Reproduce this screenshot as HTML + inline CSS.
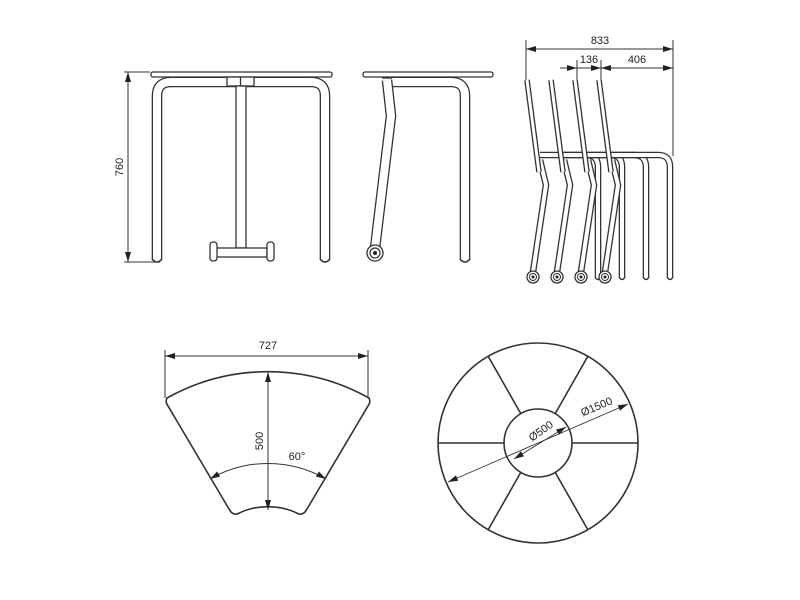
<!DOCTYPE html>
<html><head><meta charset="utf-8"><style>
html,body{margin:0;padding:0;background:#fff}
svg{display:block}
text{font-family:"Liberation Sans","DejaVu Sans",sans-serif;font-size:11px;fill:#222}
</style></head><body>
<svg width="800" height="600" viewBox="0 0 800 600" xmlns="http://www.w3.org/2000/svg">
<defs>
<marker id="a" viewBox="0 0 10 6" refX="10" refY="3" markerWidth="10" markerHeight="6" orient="auto-start-reverse" markerUnits="userSpaceOnUse">
<path d="M0,0 L10,3 L0,6 z" fill="#222"/></marker>
</defs>
<g fill="none" stroke="#333" stroke-width="1">
<line x1="124" y1="72" x2="150" y2="72"/>
<line x1="124" y1="262" x2="160" y2="262"/>
<line x1="128" y1="72" x2="128" y2="262" marker-start="url(#a)" marker-end="url(#a)"/>
</g>
<g fill="none" stroke="#333" stroke-width="1.3">
<path d="M157,260 V96 Q157,82 171,82 H311 Q325,82 325,96 V260" stroke="#333" stroke-width="10.6"/>
<path d="M157,261 V96 Q157,82 171,82 H311 Q325,82 325,96 V261" stroke="#fff" stroke-width="8"/>
<rect x="151" y="72" width="181" height="5" rx="2" fill="#fff"/>
<rect x="227" y="77" width="27" height="9" fill="#fff"/>
<line x1="240.5" y1="77" x2="240.5" y2="86"/>
<rect x="236" y="86" width="10" height="162" fill="#fff"/>
<rect x="216" y="248" width="51" height="9" fill="#fff"/>
<rect x="210" y="242" width="7" height="19" rx="3" fill="#fff"/>
<rect x="267" y="242" width="7" height="19" rx="3" fill="#fff"/>
<path d="M152,259 Q157,265 162,259 M320,259 Q325,265 330,259" stroke-width="1.6"/>

<path d="M385,82 H451 Q465,82 465,96 V260" stroke="#333" stroke-width="10.6"/>
<path d="M385,82 H451 Q465,82 465,96 V261" stroke="#fff" stroke-width="8"/>
<path d="M460,259 Q465,265 470,259" stroke-width="1.6"/>
<rect x="363" y="72" width="130" height="5" rx="2" fill="#fff"/>
<polyline points="387,80 391,116 375,248" stroke="#333" stroke-width="10.6"/>
<polyline points="387,80 391,116 375,248" stroke="#fff" stroke-width="8"/>
<line x1="382" y1="78" x2="392" y2="78"/>
<circle cx="375" cy="253" r="8" fill="#fff"/>
<circle cx="375" cy="253" r="5"/>
<circle cx="375" cy="253" r="2" fill="#222" stroke="none"/>
</g>
<g fill="none" stroke="#333" stroke-width="1">
<line x1="526" y1="40" x2="526" y2="82"/>
<line x1="673" y1="40" x2="673" y2="156"/>
<line x1="577" y1="60" x2="577" y2="80"/>
<line x1="601" y1="60" x2="601" y2="80"/>
<line x1="526" y1="49" x2="673" y2="49" marker-start="url(#a)" marker-end="url(#a)"/>
<line x1="560" y1="68" x2="577" y2="68" marker-end="url(#a)"/>
<line x1="577" y1="68" x2="601" y2="68" marker-end="url(#a)"/>
<line x1="601" y1="68" x2="673" y2="68" marker-start="url(#a)" marker-end="url(#a)"/>
</g>
<text x="600" y="44" text-anchor="middle">833</text>
<text x="589" y="63" text-anchor="middle">136</text>
<text x="637" y="63" text-anchor="middle">406</text>
<text transform="translate(123,167) rotate(-90)" text-anchor="middle">760</text>

<g fill="none">
<g id="ch">
<path d="M540,155 H586 Q598,155 598,167 V277" stroke="#333" stroke-width="6.6"/>
<path d="M540,155 H586 Q598,155 598,167 V278" stroke="#fff" stroke-width="4"/>
<path d="M595,277 Q598,282 601,277" stroke="#333" stroke-width="1.4"/>
<polyline points="540,160 546,185 533,272" stroke="#333" stroke-width="6.6"/>
<polyline points="540,160 546,185 533,272" stroke="#fff" stroke-width="4"/>
<line x1="527" y1="80" x2="539" y2="172" stroke="#333" stroke-width="5.6"/>
<line x1="527" y1="80" x2="539" y2="172" stroke="#fff" stroke-width="3"/>
<circle cx="533" cy="277" r="6" fill="#fff" stroke="#333" stroke-width="1.3"/>
<circle cx="533" cy="277" r="3.5" stroke="#333"/>
<circle cx="533" cy="277" r="1.5" fill="#222"/>
</g>
<use href="#ch" x="24"/>
<use href="#ch" x="48"/>
<use href="#ch" x="72"/>
</g>

<g fill="none" stroke="#333" stroke-width="1">
<line x1="165" y1="350" x2="165" y2="398"/>
<line x1="368" y1="350" x2="368" y2="398"/>
<line x1="165" y1="356" x2="368" y2="356" marker-start="url(#a)" marker-end="url(#a)"/>
<path d="M167,398 A207,207 0 0 1 369,398 Q371,402 368,406 L307,509 Q304,515 299,514 A69,69 0 0 0 237,514 Q232,515 229,509 L168,406 Q165,402 167,398 Z" stroke-width="1.6"/>
<line x1="268" y1="372" x2="268" y2="510" marker-start="url(#a)" marker-end="url(#a)"/>
<path d="M210,479 A116,116 0 0 1 326,479" marker-start="url(#a)" marker-end="url(#a)"/>
</g>
<text x="268" y="349" text-anchor="middle">727</text>
<text transform="translate(263,441) rotate(-90)" text-anchor="middle">500</text>
<text x="297" y="460" text-anchor="middle">60°</text>

<g fill="none" stroke="#333" stroke-width="1.6">
<circle cx="538" cy="443" r="100"/>
<circle cx="538" cy="443" r="34"/>
<line x1="438" y1="443" x2="504" y2="443"/>
<line x1="572" y1="443" x2="638" y2="443"/>
<line x1="521" y1="414" x2="488" y2="356"/>
<line x1="555" y1="414" x2="588" y2="356"/>
<line x1="521" y1="472" x2="488" y2="530"/>
<line x1="555" y1="472" x2="588" y2="530"/>
</g>
<g stroke="#333" stroke-width="0.9">
<line x1="448" y1="482" x2="628" y2="404" marker-start="url(#a)" marker-end="url(#a)"/>
<line x1="514" y1="459" x2="566" y2="427" marker-start="url(#a)" marker-end="url(#a)"/>
</g>
<text transform="translate(598,410) rotate(-23)" text-anchor="middle">Ø1500</text>
<text transform="translate(543,434) rotate(-35)" text-anchor="middle">Ø500</text>
</svg>
</body></html>
